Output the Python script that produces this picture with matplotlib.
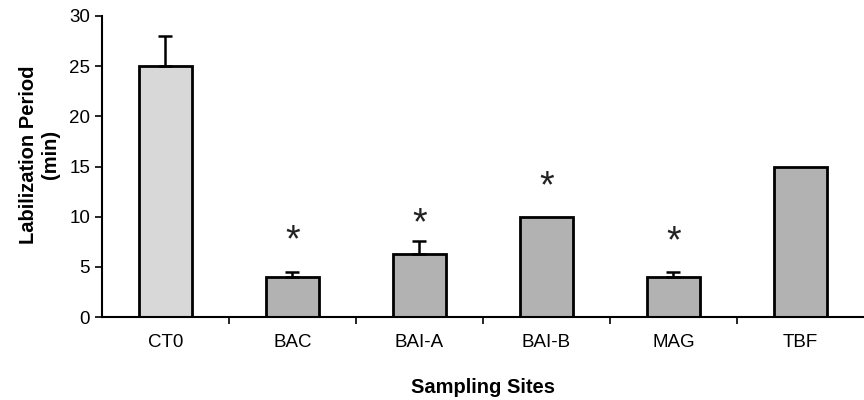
import matplotlib.pyplot as plt
import numpy as np

# data
sites = ['CT0', 'BAC', 'BAI-A', 'BAI-B', 'MAG', 'TBF']
period = [25, 4, 6.3, 10, 4, 15]
err = [3, 0.5, 1.3, 0, 0.5, 0]
star_y = [None, 8.3, 10.0, 13.7, 8.2, None]
colors = ['#d8d8d8', '#b2b2b2', '#b2b2b2', '#b2b2b2', '#b2b2b2', '#b2b2b2']

plt.rcParams['font.family'] = ['Liberation Sans', 'DejaVu Sans']

fig = plt.figure(figsize=(8.64, 4), dpi=100)
ax = fig.add_axes([0.118, 0.2075, 0.882, 0.7525])

x = np.arange(len(sites))
ax.bar(x, period, width=0.42, color=colors, edgecolor='black', linewidth=2, zorder=2)
for xi, v, e in zip(x, period, err):
    if e > 0:
        ax.errorbar(xi, v, yerr=[[0], [e]], fmt='none', ecolor='black',
                    elinewidth=1.8, capsize=5, capthick=1.8, zorder=3)
# significance marks, centred on star_y
for xi, s in zip(x, star_y):
    if s is not None:
        ax.annotate('*', (xi, s), xytext=(0, -13), textcoords='offset points',
                    ha='center', va='baseline', fontsize=27, color='#222222')

ax.set_xlim(-0.5, len(sites) - 0.5)
ax.set_ylim(0, 30)
ax.set_yticks(range(0, 31, 5))
ax.set_xticks(x)
ax.set_xticklabels(sites, fontsize=13.5)
ax.set_xticks(x[:-1] + 0.5, minor=True)
ax.tick_params(axis='x', which='major', length=0, pad=12)
ax.tick_params(axis='x', which='minor', length=5, width=1.2)
ax.tick_params(axis='y', length=5, width=1.2, labelsize=13.5)

for side in ['top', 'right']:
    ax.spines[side].set_visible(False)
ax.spines['left'].set_linewidth(1.5)
ax.spines['bottom'].set_linewidth(1.5)

ax.set_ylabel('Labilization Period\n(min)', fontsize=14.5, fontweight='bold')
ax.yaxis.set_label_coords(-0.055, 0.54)
ax.set_xlabel('Sampling Sites', fontsize=14.5, fontweight='bold', labelpad=20)

plt.savefig('out.png', dpi=100)
